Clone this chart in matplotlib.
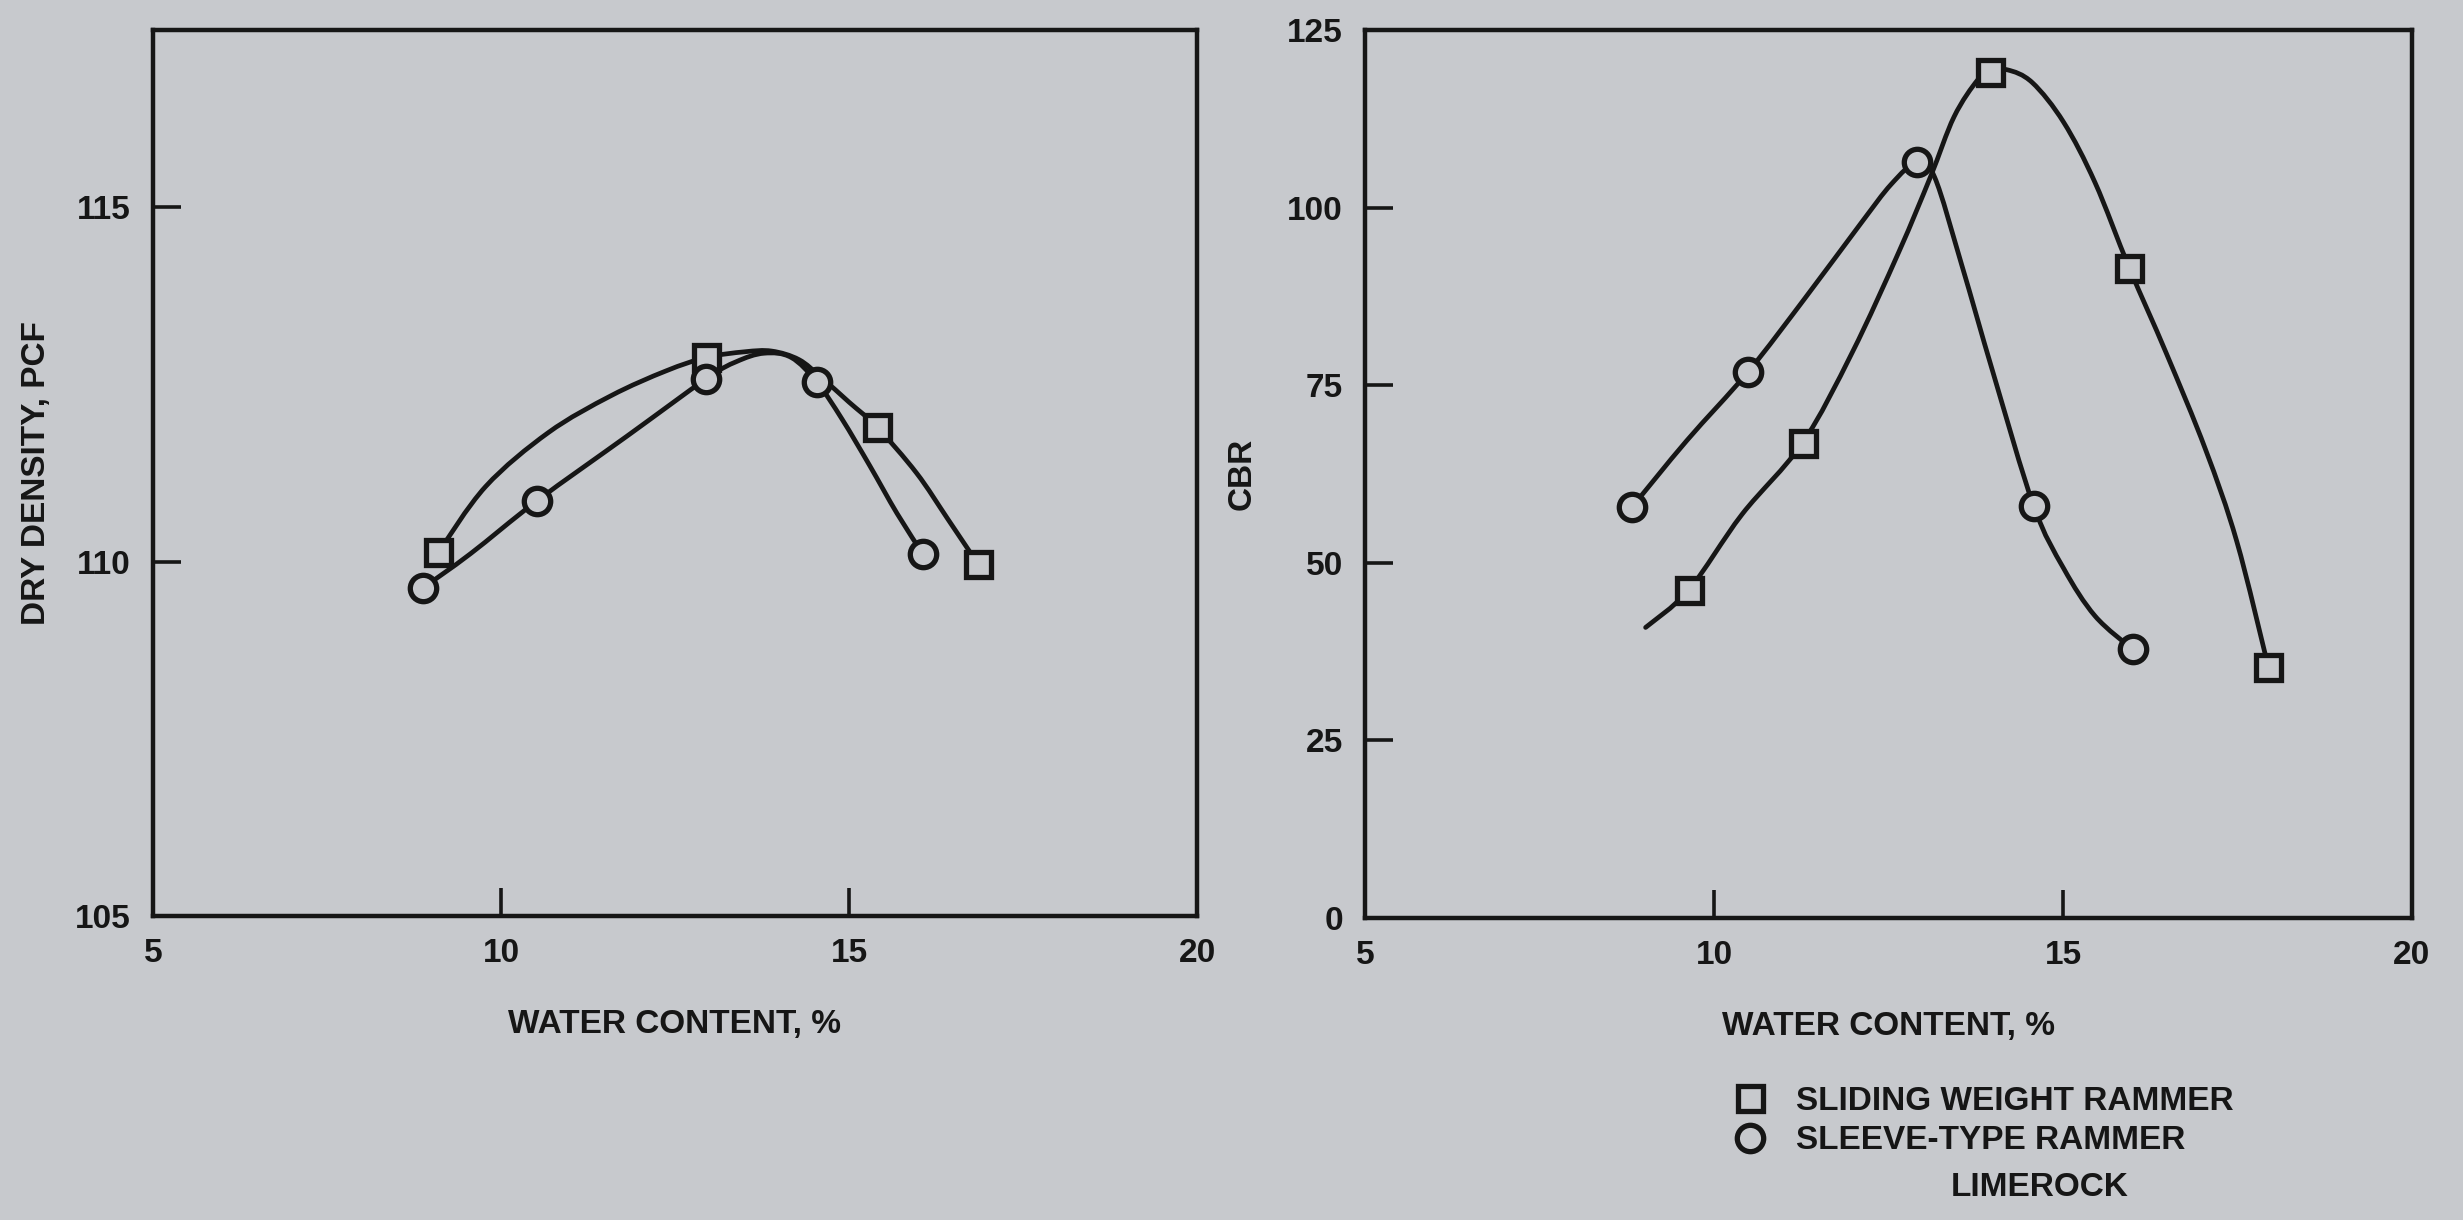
import matplotlib.pyplot as plt
from matplotlib.lines import Line2D
from matplotlib.path import Path
from matplotlib.patches import PathPatch

BG = "#c7c9cd"
INK = "#161616"

# ---- dry density panel: measured points ----
dd_sq_x = [9.1, 12.95, 15.4, 16.85]
dd_sq_y = [110.13, 112.89, 111.90, 109.97]
dd_ci_x = [8.88, 10.52, 12.95, 14.54, 16.06]
dd_ci_y = [109.63, 110.86, 112.58, 112.53, 110.11]

# hand drawn curves
dd_sq_curve_x = [9.1, 9.78, 10.68, 11.58, 12.37, 12.95, 13.5, 13.89, 14.28, 14.6, 15.0, 15.4, 15.97, 16.42, 16.85]
dd_sq_curve_y = [110.13, 111.06, 111.82, 112.34, 112.69, 112.88, 112.96, 112.97, 112.85, 112.6, 112.25, 111.9, 111.25, 110.6, 109.97]
dd_ci_curve_x = [8.88, 9.56, 10.52, 11.81, 12.95, 13.38, 13.78, 14.17, 14.54, 14.9, 15.3, 15.69, 16.06]
dd_ci_curve_y = [109.63, 110.11, 110.86, 111.77, 112.58, 112.82, 112.94, 112.88, 112.53, 112.01, 111.35, 110.68, 110.11]

# ---- CBR panel: measured points ----
cbr_sq_x = [9.64, 11.27, 13.96, 15.95, 17.94]
cbr_sq_y = [46.2, 66.9, 119.1, 91.5, 35.4]
cbr_ci_x = [8.83, 10.49, 12.91, 14.58, 16.0]
cbr_ci_y = [57.9, 76.9, 106.4, 58.0, 37.8]

cbr_sq_curve_x = [9.02, 9.64, 10.4, 11.27, 11.98, 12.65, 13.1, 13.44, 13.78, 13.96, 14.2, 14.56, 15.01, 15.46, 15.95, 16.48, 17.04, 17.49, 17.94]
cbr_sq_curve_y = [40.9, 46.2, 56.8, 66.9, 79.6, 93.8, 104.3, 112.8, 118.0, 119.1, 119.4, 117.6, 112.0, 103.5, 91.5, 79.5, 66.0, 53.0, 35.4]
cbr_ci_curve_x = [8.83, 9.61, 10.49, 11.3, 12.09, 12.54, 12.91, 13.16, 13.55, 14.0, 14.58, 15.01, 15.46, 16.0]
cbr_ci_curve_y = [57.9, 67.2, 76.9, 87.2, 97.6, 103.3, 106.4, 104.3, 91.9, 76.7, 58.0, 49.2, 42.5, 37.8]

legend_labels = ["SLIDING WEIGHT RAMMER", "SLEEVE-TYPE RAMMER"]

plt.rcParams['font.family'] = ['Liberation Sans', 'DejaVu Sans']
plt.rcParams['font.weight'] = 'bold'
plt.rcParams['axes.labelweight'] = 'bold'
FS = 24


def smooth_curve(ax, xs, ys):
    # bezier through the read points (catmull-rom handles), drawn by matplotlib
    pts = list(zip(xs, ys))
    verts = [pts[0]]
    codes = [Path.MOVETO]
    n = len(pts)
    for i in range(n - 1):
        p0 = pts[max(i - 1, 0)]
        p1 = pts[i]
        p2 = pts[i + 1]
        p3 = pts[min(i + 2, n - 1)]
        c1 = (p1[0] + (p2[0] - p0[0]) / 6, p1[1] + (p2[1] - p0[1]) / 6)
        c2 = (p2[0] - (p3[0] - p1[0]) / 6, p2[1] - (p3[1] - p1[1]) / 6)
        verts += [c1, c2, p2]
        codes += [Path.CURVE4] * 3
    ax.add_patch(PathPatch(Path(verts, codes), fill=False, edgecolor=INK,
                           lw=3.4, capstyle='round', zorder=2))


fig = plt.figure(figsize=(24.63, 12.2), dpi=100, facecolor=BG)
ax1 = fig.add_axes([153 / 2463, 1 - 916 / 1220, 1044 / 2463, 886 / 1220])
ax2 = fig.add_axes([1365 / 2463, 1 - 918 / 1220, 1047 / 2463, 888 / 1220])

sq_kw = dict(marker='s', ms=18, mew=3.8, mec=INK, mfc=BG, ls='none', zorder=3)
ci_kw = dict(marker='o', ms=19, mew=3.8, mec=INK, mfc=BG, ls='none', zorder=3)

smooth_curve(ax1, dd_sq_curve_x, dd_sq_curve_y)
smooth_curve(ax1, dd_ci_curve_x, dd_ci_curve_y)
ax1.plot(dd_sq_x, dd_sq_y, **sq_kw)
ax1.plot(dd_ci_x, dd_ci_y, **ci_kw)

smooth_curve(ax2, cbr_sq_curve_x, cbr_sq_curve_y)
smooth_curve(ax2, cbr_ci_curve_x, cbr_ci_curve_y)
ax2.plot(cbr_sq_x, cbr_sq_y, **sq_kw)
ax2.plot(cbr_ci_x, cbr_ci_y, **ci_kw)

ax1.set_xlim(5, 20)
ax1.set_ylim(105, 117.5)
ax1.set_xticks([5, 10, 15, 20])
ax1.set_yticks([105, 110, 115])
ax2.set_xlim(5, 20)
ax2.set_ylim(0, 125)
ax2.set_xticks([5, 10, 15, 20])
ax2.set_yticks([0, 25, 50, 75, 100, 125])

for ax in (ax1, ax2):
    ax.set_facecolor(BG)
    for s in ax.spines.values():
        s.set_linewidth(3.2)
        s.set_color(INK)
    ax.tick_params(direction='in', length=20, width=2.6, color=INK,
                   labelsize=FS, labelcolor=INK, pad=16)
    ax.set_xlabel("WATER CONTENT, %", fontsize=FS, color=INK, fontweight='bold')
    ax.xaxis.set_label_coords(0.5, -0.105)

ax1.set_ylabel("DRY DENSITY, PCF", fontsize=FS, color=INK, fontweight='bold')
ax1.yaxis.label.set_va('center')
ax1.yaxis.set_label_coords(-0.112, 0.5)
ax2.set_ylabel("CBR", fontsize=FS, color=INK, fontweight='bold')
ax2.yaxis.label.set_va('center')
ax2.yaxis.set_label_coords(-0.117, 0.5)

handles = [Line2D([], [], **sq_kw), Line2D([], [], **ci_kw)]
fig.legend(handles, legend_labels, loc='upper left',
           bbox_to_anchor=(1733 / 2463, 1 - 1086 / 1220), frameon=False,
           fontsize=FS, handlelength=1.0, handletextpad=0.9, labelspacing=0.25,
           borderpad=0, borderaxespad=0, labelcolor=INK)
fig.text(2040 / 2463, 1 - 1188 / 1220, "LIMEROCK", fontsize=FS, color=INK,
         ha='center', va='center', fontweight='bold')

fig.savefig("out.png", dpi=100, facecolor=BG)
